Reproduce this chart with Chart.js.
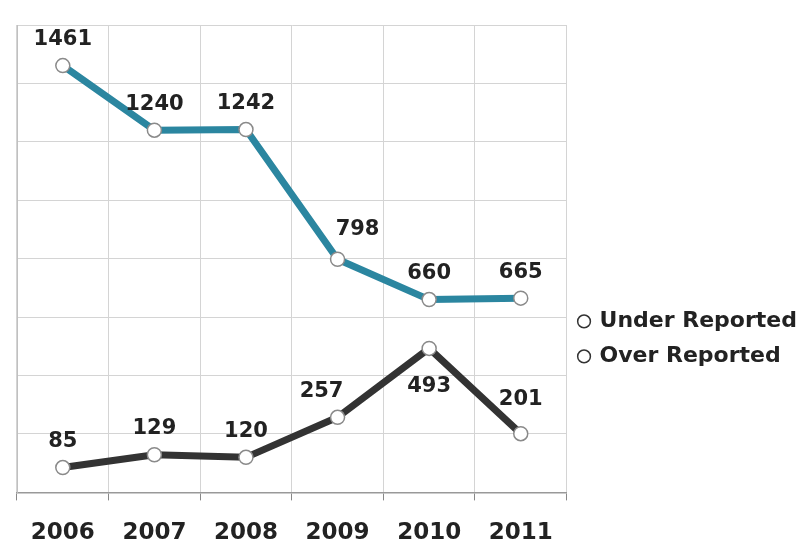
<!DOCTYPE html>
<html>
<head>
<meta charset="utf-8">
<script src="https://cdn.jsdelivr.net/npm/chart.js@4.4.0/dist/chart.umd.min.js"></script>
<style>
body { margin:0; background:#fff; }
#wrap { width:807px; height:546px; position:relative; }
</style>
</head>
<body>
<div id="wrap"><canvas id="reported_graph"></canvas></div>
<script>
const years = ['2006', '2007', '2008', '2009', '2010', '2011']
const underReported = [1461, 1240, 1242, 798, 660, 665]
const overReported = [85, 129, 120, 257, 493, 201]
const yMin = 0
const yMax = 1600
const yStep = 200

// where each value label sits relative to its point
const labelSpots = [
    ['up', 'up', 'up', 'upRight', 'up', 'up'],
    ['up', 'up', 'up', 'upLeft', 'down', 'upHigh']
]

const boldFont = 'DejaVu Sans'

const pointLabels = {
    id: 'pointLabels',
    afterDatasetsDraw(chart) {
        const ctx = chart.ctx
        ctx.save()
        ctx.font = 'bold 21px "' + boldFont + '"'
        ctx.fillStyle = '#222'
        ctx.textAlign = 'center'
        ctx.textBaseline = 'middle'
        chart.data.datasets.forEach((ds, i) => {
            chart.getDatasetMeta(i).data.forEach((pt, j) => {
                let x = pt.x
                let y = pt.y - 26
                const spot = labelSpots[i][j]
                if (spot == 'upRight') { x += 20; y -= 4 }
                if (spot == 'upLeft') { x -= 16 }
                if (spot == 'upHigh') { y -= 8 }
                if (spot == 'down') { y = pt.y + 38 }
                ctx.fillText(ds.data[j], x, y)
            })
        })
        ctx.restore()
    }
}

const data = {
    labels: years,
    datasets: [{
        label: 'Under Reported',
        data: underReported,
        borderColor: '#2b86a0',
        backgroundColor: '#2b86a0',
        borderWidth: 7,
        borderJoinStyle: 'round',
        pointRadius: 7,
        pointBackgroundColor: '#fff',
        pointBorderColor: '#8a8a8a',
        pointBorderWidth: 1.5,
    },
    {
        label: 'Over Reported',
        data: overReported,
        borderColor: '#333333',
        backgroundColor: '#333333',
        borderWidth: 7,
        borderJoinStyle: 'round',
        pointRadius: 7,
        pointBackgroundColor: '#fff',
        pointBorderColor: '#8a8a8a',
        pointBorderWidth: 1.5,
    }]
}

const config = {
    type: 'line',
    data: data,
    options: {
        responsive: true,
        maintainAspectRatio: false,
        animation: false,
        layout: {
            autoPadding: false,
            padding: { top: 25, left: 17, right: 0, bottom: -20 }
        },
        plugins: {
            tooltip: { enabled: false },
            legend: {
                position: 'right',
                align: 'start',
                maxWidth: 244,
                title: {
                    display: true,
                    text: '',
                    padding: { top: 258, bottom: 0 }
                },
                labels: {
                    usePointStyle: true,
                    pointStyle: 'circle',
                    boxWidth: 9,
                    boxHeight: 9,
                    padding: 13,
                    color: '#222',
                    font: { family: boldFont, size: 22, weight: 'bold' },
                    generateLabels(chart) {
                        return chart.data.datasets.map((ds, i) => ({
                            text: ds.label,
                            fillStyle: '#fff',
                            strokeStyle: '#333',
                            lineWidth: 1.5,
                            pointStyle: 'circle',
                            fontColor: '#222',
                            datasetIndex: i
                        }))
                    }
                }
            }
        },
        scales: {
            x: {
                offset: true,
                grid: {
                    offset: true,
                    color: '#d4d4d4',
                    tickLength: 8,
                    tickColor: '#888'
                },
                border: { color: '#999', width: 1.5 },
                ticks: {
                    color: '#222',
                    padding: 19,
                    font: { family: boldFont, size: 23, weight: 'bold' }
                }
            },
            y: {
                min: yMin,
                max: yMax,
                ticks: { stepSize: yStep, display: false },
                grid: { color: '#d4d4d4', drawTicks: false },
                border: { color: '#c0c0c0' }
            }
        }
    },
    plugins: [pointLabels]
}

const reported_graph = new Chart(
    document.getElementById('reported_graph'),
    config
)
</script>
</body>
</html>
